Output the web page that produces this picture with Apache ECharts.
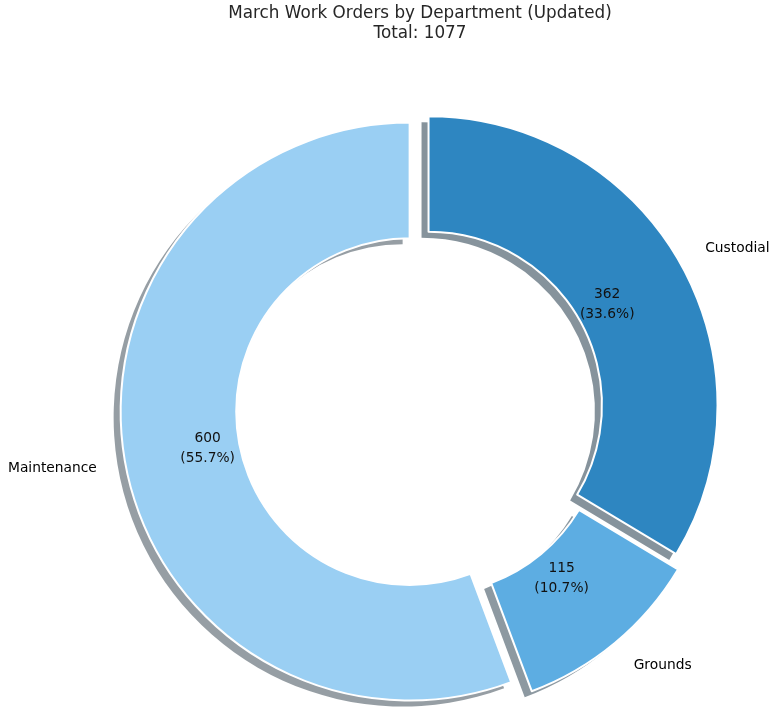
<!DOCTYPE html>
<html>
<head>
<meta charset="utf-8">
<script src="https://cdn.jsdelivr.net/npm/echarts@6/dist/echarts.min.js"></script>
<style>
  html, body { margin: 0; padding: 0; background: #ffffff; }
  #chart { width: 770px; height: 709px; }
</style>
</head>
<body>
<div id="chart"></div>
<script>
// Work orders per department for March
const departments = ['Custodial', 'Grounds', 'Maintenance'];
const workOrders = [362, 115, 600];

// Styling and layout
const sliceColors = ['#2E86C1', '#5DADE2', '#9ACFF3'];
const explodeFractions = [0.03, 0.05, 0.04];
const ringCenter = [421, 409.5];
const outerR = 289;
const holeRatio = 0.6;      // inner radius as a fraction of the outer radius
const pctDistance = 0.7;    // value label distance from the centre (fraction of R)
const nameDistance = 1.1;   // category label distance (fraction of R)
const shadowShift = [-7, 6];
const fontFamily = 'DejaVu Sans, Verdana, sans-serif';

const total = workOrders.reduce((a, b) => a + b, 0);

// Mid angle of each slice (degrees, counter-clockwise from +x), going clockwise from 12 o'clock
let running = 0;
const midAngles = workOrders.map(v => {
  const start = 90 - running / total * 360;
  running += v;
  const end = 90 - running / total * 360;
  return (start + end) / 2;
});

function sliceCenter(i) {
  const a = midAngles[i] * Math.PI / 180;
  const d = explodeFractions[i] * outerR;
  return [ringCenter[0] + d * Math.cos(a), ringCenter[1] - d * Math.sin(a)];
}

function shadowColor(hex) {
  const n = parseInt(hex.slice(1), 16);
  const r = (n >> 16) & 255, g = (n >> 8) & 255, b = n & 255;
  return `rgba(${Math.round(r * 0.3)},${Math.round(g * 0.3)},${Math.round(b * 0.3)},0.5)`;
}

const hidden = { color: 'transparent', borderWidth: 0 };

function baseSeries(c, radius, z) {
  return {
    type: 'pie',
    center: c,
    radius: radius,
    startAngle: 90,
    clockwise: true,
    avoidLabelOverlap: false,
    percentPrecision: 1,
    silent: true,
    animation: false,
    emphasis: { disabled: true },
    z: z
  };
}

const series = [];
departments.forEach((_, i) => {
  const c = sliceCenter(i);

  // drop shadow of the slice
  series.push(Object.assign(baseSeries([c[0] + shadowShift[0], c[1] + shadowShift[1]],
      [outerR * holeRatio, outerR], 1), {
    label: { show: false },
    labelLine: { show: false },
    data: departments.map((name, j) => ({
      name, value: workOrders[j],
      itemStyle: j === i ? { color: shadowColor(sliceColors[i]), borderWidth: 0 } : hidden
    }))
  }));

  // the slice itself with its category label outside
  series.push(Object.assign(baseSeries(c, [outerR * holeRatio, outerR], 2), {
    label: {
      position: 'outside',
      formatter: '{b}',
      fontFamily: fontFamily,
      fontSize: 13.8,
      color: '#000000',
      distanceToLabelLine: 0
    },
    labelLine: { show: false, length: outerR * (nameDistance - 1), length2: 0 },
    data: departments.map((name, j) => ({
      name, value: workOrders[j],
      itemStyle: j === i ? { color: sliceColors[i], borderColor: '#ffffff', borderWidth: 2 } : hidden,
      label: { show: j === i }
    }))
  }));

  // value and percentage label inside the ring
  const inner = 2 * pctDistance - 1;
  series.push(Object.assign(baseSeries(c, [outerR * inner, outerR], 3), {
    label: {
      position: 'inside',
      formatter: '{c}\n({d}%)',
      fontFamily: fontFamily,
      fontSize: 13.8,
      lineHeight: 20,
      color: '#111111'
    },
    labelLine: { show: false },
    data: departments.map((name, j) => ({
      name, value: workOrders[j],
      itemStyle: hidden,
      label: { show: j === i }
    }))
  }));
});

const chart = echarts.init(document.getElementById('chart'), null, { renderer: 'canvas' });
chart.setOption({
  backgroundColor: '#ffffff',
  animation: false,
  title: {
    text: 'March Work Orders by Department (Updated)\nTotal: ' + total,
    left: 420,
    top: 4,
    padding: 0,
    textAlign: 'center',
    textStyle: {
      fontFamily: fontFamily,
      fontSize: 16.8,
      fontWeight: 'normal',
      lineHeight: 20,
      color: '#262626'
    }
  },
  series: series
});
</script>
</body>
</html>
